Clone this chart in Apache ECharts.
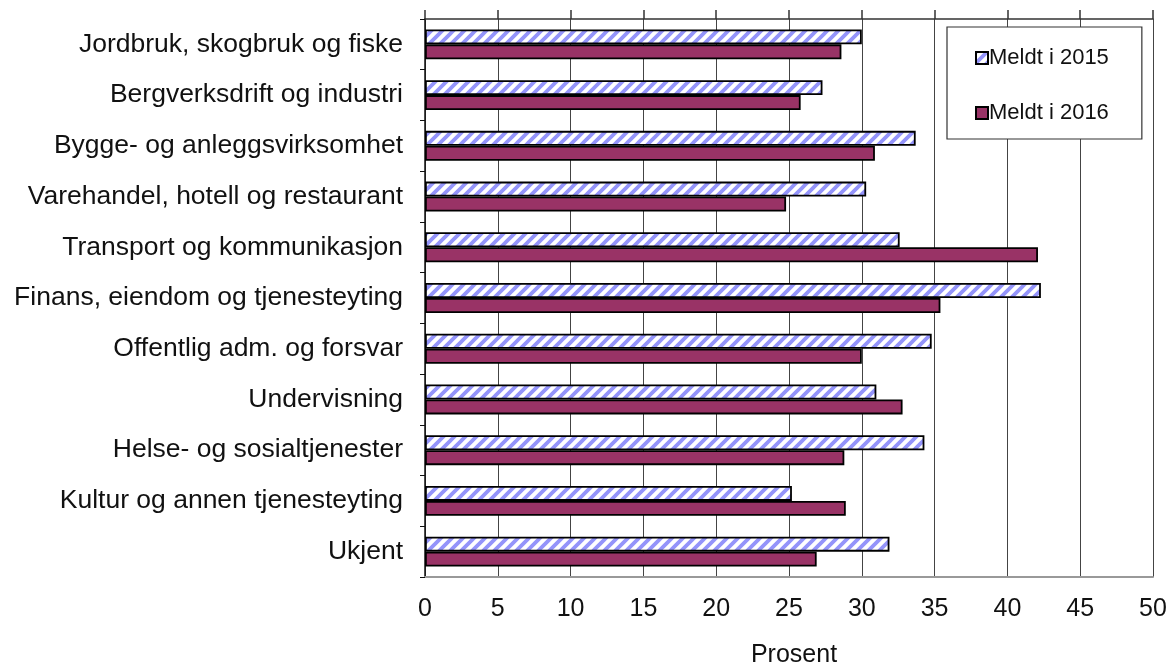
<!DOCTYPE html>
<html>
<head>
<meta charset="utf-8">
<script src="https://cdn.jsdelivr.net/npm/echarts@6/dist/echarts.min.js"></script>
<style>html,body{margin:0;padding:0;background:#fff}#c{width:1172px;height:666px}</style>
</head>
<body>
<div id="c"></div>
<script>
const categories = [
  "Jordbruk, skogbruk og fiske",
  "Bergverksdrift og industri",
  "Bygge- og anleggsvirksomhet",
  "Varehandel, hotell og restaurant",
  "Transport og kommunikasjon",
  "Finans, eiendom og tjenesteyting",
  "Offentlig adm. og forsvar",
  "Undervisning",
  "Helse- og sosialtjenester",
  "Kultur og annen tjenesteyting",
  "Ukjent"
];
const meldt2015 = [30.0, 27.3, 33.7, 30.3, 32.6, 42.3, 34.8, 31.0, 34.3, 25.2, 31.9];
const meldt2016 = [28.6, 25.8, 30.9, 24.8, 42.1, 35.4, 30.0, 32.8, 28.8, 28.9, 26.9];
const seriesNames = ["Meldt i 2015", "Meldt i 2016"];
const xTicks = [0, 5, 10, 15, 20, 25, 30, 35, 40, 45, 50];

function hatch() {
  const P = 11;
  const c = document.createElement('canvas');
  c.width = P; c.height = P;
  const g = c.getContext('2d');
  g.fillStyle = '#ffffff'; g.fillRect(0, 0, P, P);
  g.strokeStyle = '#9494fa'; g.lineWidth = 3.8;
  g.beginPath();
  for (const o of [-P, 0, P]) {
    g.moveTo(o - 2, P + 2); g.lineTo(o + P + 2, -2);
  }
  g.stroke();
  return c;
}

const font = 'Liberation Sans, Arial, sans-serif';
const chart = echarts.init(document.getElementById('c'), null, {renderer: 'canvas'});
const xMin = xTicks[0], xMax = xTicks[xTicks.length - 1], xInt = xTicks[1] - xTicks[0];
chart.setOption({
  animation: false,
  grid: {left: 425, right: 19, top: 19, bottom: 89, containLabel: false, outerBoundsMode: 'none'},
  legend: {
    orient: 'vertical', left: 947, top: 27,
    data: seriesNames,
    backgroundColor: '#fff', borderColor: '#333', borderWidth: 1.2,
    padding: [20, 33, 15, 28], itemGap: 33,
    itemWidth: 12, itemHeight: 12, icon: 'rect',
    itemStyle: {borderWidth: 2},
    textStyle: {fontFamily: font, fontSize: 22, color: '#111', padding: [0, 0, 0, -4]}
  },
  xAxis: [{
    type: 'value', min: xMin, max: xMax, interval: xInt, position: 'bottom',
    axisLine: {show: true, lineStyle: {color: '#999', width: 2}},
    axisTick: {show: false},
    axisLabel: {fontFamily: font, fontSize: 25, color: '#111', margin: 20},
    splitLine: {show: true, lineStyle: {color: '#444', width: 1}},
    name: 'Prosent', nameLocation: 'middle', nameGap: 66,
    nameTextStyle: {fontFamily: font, fontSize: 25, color: '#111', padding: [0, 0, 0, 10]}
  }, {
    type: 'value', min: xMin, max: xMax, interval: xInt, position: 'top',
    axisLine: {show: true, lineStyle: {color: '#333', width: 1.5}},
    axisTick: {show: true, length: 9, lineStyle: {color: '#333', width: 1.5}},
    axisLabel: {show: false},
    splitLine: {show: false}
  }],
  yAxis: {
    type: 'category', data: categories, inverse: true,
    axisLine: {show: true, lineStyle: {color: '#111', width: 1.5}},
    axisTick: {show: true, length: 5, lineStyle: {color: '#111'}},
    axisLabel: {fontFamily: font, fontSize: 26.5, color: '#111', margin: 22}
  },
  series: [{
    name: seriesNames[0], type: 'bar', data: meldt2015,
    barGap: '0%', barCategoryGap: '41%',
    itemStyle: {color: {image: hatch(), repeat: 'repeat'}, borderColor: '#000', borderWidth: 1.8}
  }, {
    name: seriesNames[1], type: 'bar', data: meldt2016,
    barGap: '0%', barCategoryGap: '41%',
    itemStyle: {color: '#993366', borderColor: '#000', borderWidth: 1.8}
  }]
});
</script>
</body>
</html>
